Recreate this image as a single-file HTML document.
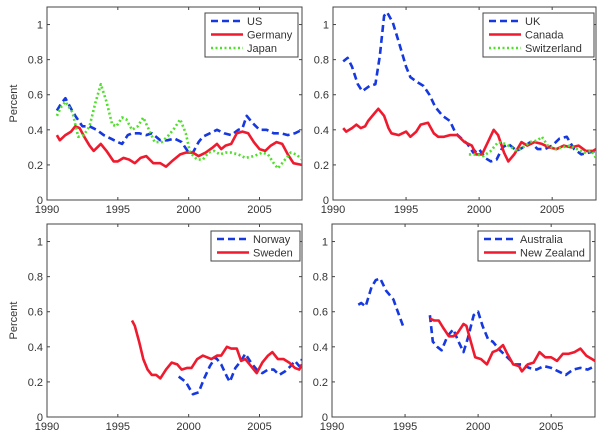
<!DOCTYPE html>
<html><head><meta charset="utf-8"><style>
html,body{margin:0;padding:0;background:#fff;}
svg{display:block;font-family:"Liberation Sans",Arial,sans-serif;}
</style></head><body>
<svg id="chart" width="600" height="436" viewBox="0 0 600 436"></svg>
<script>
// ---- data ----
const usYears=[1990.7,1991,1991.3,1991.7,1992,1992.5,1993,1993.5,1994,1994.5,1995,1995.3,1995.7,1996,1996.5,1997,1997.4,1998,1998.5,1999,1999.5,2000,2000.3,2000.7,2001,2001.5,2002,2002.5,2003,2003.5,2003.8,2004.1,2004.5,2005,2005.5,2006,2006.5,2007,2007.5,2008];
const usValues=[.51,.55,.58,.52,.48,.42,.42,.40,.37,.35,.33,.32,.37,.38,.38,.37,.38,.34,.34,.35,.33,.27,.27,.33,.36,.38,.40,.38,.37,.40,.41,.48,.44,.40,.40,.38,.38,.37,.38,.40];
const deYears=[1990.7,1990.9,1991.3,1991.7,1992,1992.3,1992.7,1993,1993.3,1993.8,1994.2,1994.7,1995,1995.4,1995.8,1996.2,1996.6,1997,1997.5,1998,1998.4,1998.8,1999.4,1999.8,2000.3,2000.7,2001.2,2001.7,2002,2002.3,2002.6,2003,2003.4,2003.8,2004.2,2004.6,2005,2005.4,2005.8,2006.2,2006.6,2007,2007.4,2008];
const deValues=[.37,.34,.37,.39,.42,.41,.35,.31,.28,.32,.28,.22,.22,.24,.23,.21,.24,.25,.21,.21,.19,.22,.26,.27,.27,.25,.27,.30,.32,.29,.31,.32,.38,.39,.38,.33,.29,.28,.31,.33,.32,.26,.21,.20];
const jpYears=[1990.7,1991,1991.3,1991.8,1992.2,1992.6,1993,1993.4,1993.8,1994.2,1994.6,1994.9,1995.3,1995.6,1996,1996.4,1996.8,1997.2,1997.6,1998.1,1998.6,1999,1999.4,1999.8,2000.1,2000.6,2001,2001.4,2001.8,2002.2,2002.6,2003,2003.5,2004,2004.6,2005.2,2005.6,2006,2006.3,2006.7,2007.2,2007.6,2008];
const jpValues=[.48,.53,.56,.50,.36,.37,.42,.55,.66,.56,.43,.42,.47,.46,.40,.42,.47,.40,.33,.33,.37,.41,.46,.38,.27,.23,.23,.27,.28,.26,.27,.27,.26,.24,.25,.27,.26,.21,.18,.22,.27,.26,.23];
const ukYears=[1990.7,1991,1991.3,1991.7,1992,1992.5,1992.9,1993.2,1993.5,1993.7,1994.1,1994.5,1995,1995.3,1995.8,1996.2,1996.6,1997,1997.5,1998,1998.4,1998.8,1999.2,1999.6,2000,2000.4,2000.8,2001.2,2001.6,2002,2002.6,2003,2003.5,2004,2004.5,2005,2005.5,2006,2006.5,2007,2007.5,2008];
const ukValues=[.79,.81,.76,.66,.62,.65,.66,.82,1.05,1.07,1.01,.90,.76,.70,.67,.65,.60,.53,.48,.45,.38,.35,.32,.27,.29,.24,.22,.23,.30,.32,.28,.30,.33,.29,.29,.31,.35,.36,.29,.26,.27,.28];
const caYears=[1990.7,1990.9,1991.3,1991.6,1991.9,1992.2,1992.4,1992.8,1993.1,1993.5,1993.8,1994,1994.5,1995,1995.3,1995.7,1996,1996.5,1996.9,1997.2,1997.6,1998,1998.5,1999,1999.5,1999.8,2000.2,2000.6,2001,2001.3,2001.7,2002,2002.4,2002.9,2003.3,2003.8,2004.3,2004.8,2005.3,2005.8,2006.3,2006.8,2007.3,2007.8,2008];
const caValues=[.41,.39,.41,.43,.41,.42,.45,.49,.52,.48,.41,.38,.37,.39,.36,.39,.43,.44,.38,.36,.36,.37,.37,.33,.31,.26,.26,.33,.40,.37,.27,.22,.26,.33,.31,.33,.32,.30,.29,.31,.30,.31,.28,.28,.29];
const chYears=[1999.3,1999.8,2000.3,2000.8,2001.3,2001.8,2002.2,2002.6,2003,2003.5,2004,2004.3,2004.7,2005.2,2005.7,2006.2,2006.7,2007.2,2007.7,2008];
const chValues=[.26,.26,.25,.28,.33,.32,.30,.28,.30,.33,.34,.36,.31,.29,.30,.31,.29,.27,.28,.24];
const noYears=[1999.3,1999.8,2000.3,2000.7,2001.1,2001.5,2001.9,2002.3,2002.7,2002.9,2003.3,2003.7,2004,2004.4,2004.8,2005.2,2005.6,2006,2006.4,2006.8,2007.2,2007.5,2007.8,2008];
const noValues=[.23,.20,.13,.14,.22,.29,.34,.30,.23,.20,.28,.32,.36,.31,.27,.25,.27,.27,.24,.26,.29,.32,.29,.33];
const seYears=[1996,1996.2,1996.5,1996.8,1997.1,1997.4,1997.7,1998,1998.4,1998.8,1999.2,1999.5,1999.9,2000.2,2000.6,2001,2001.3,2001.6,2002,2002.3,2002.7,2003,2003.4,2003.7,2004,2004.4,2004.8,2005.2,2005.6,2005.9,2006.3,2006.7,2007.1,2007.5,2007.8,2008];
const seValues=[.55,.52,.43,.33,.27,.24,.24,.22,.27,.31,.30,.27,.28,.28,.33,.35,.34,.33,.35,.35,.40,.39,.39,.32,.33,.29,.25,.31,.35,.37,.33,.33,.31,.28,.27,.30];
const auYears=[1991.8,1992,1992.3,1992.7,1993,1993.3,1993.7,1994.2,1994.5,1994.9,1995.8,1996.7,1996.9,1997.2,1997.5,1997.9,1998.3,1998.6,1999,1999.3,1999.7,2000,2000.3,2000.7,2001,2001.5,2002,2002.5,2003,2003.5,2004,2004.5,2005,2005.5,2006,2006.5,2007,2007.5,2008];
const auValues=[.64,.65,.63,.74,.78,.79,.72,.67,.60,.51,null,.58,.43,.40,.38,.46,.50,.44,.37,.45,.58,.60,.52,.44,.43,.38,.34,.30,.30,.28,.27,.29,.28,.26,.24,.27,.28,.27,.29];
const nzYears=[1996.7,1997,1997.3,1997.6,1998,1998.3,1998.6,1999,1999.2,1999.5,1999.8,2000.2,2000.6,2001,2001.3,2001.7,2002,2002.4,2002.8,2003,2003.4,2003.8,2004.2,2004.6,2005,2005.4,2005.8,2006.2,2006.6,2007,2007.4,2007.8,2008];
const nzValues=[.56,.55,.55,.51,.46,.46,.48,.53,.52,.43,.34,.33,.30,.37,.38,.41,.36,.30,.29,.26,.30,.31,.37,.34,.34,.32,.36,.36,.37,.39,.35,.33,.32];
const xTicks=[1990,1995,2000,2005];
const yTicks=[0,0.2,0.4,0.6,0.8,1];
const yTickLabels=["0","0.2","0.4","0.6","0.8","1"];

// ---- layout ----
const BLUE="#1538e0",RED="#ef1a2d",GREEN="#4fe02a";
const styles={dash:{c:BLUE,d:"7,4"},solid:{c:RED,d:""},dot:{c:GREEN,d:"2,2.5"}};
const panels=[
 {name:"top-left",x0:47,x1:302,y0:200,yTop:7,ylab:true,legend:[205,13,93,44],
  series:[["US","dash",usYears,usValues],["Germany","solid",deYears,deValues],["Japan","dot",jpYears,jpValues]]},
 {name:"top-right",x0:333,x1:596,y0:200,yTop:7,ylab:false,legend:[483,13,111,44],
  series:[["UK","dash",ukYears,ukValues],["Canada","solid",caYears,caValues],["Switzerland","dot",chYears,chValues]]},
 {name:"bottom-left",x0:47,x1:302,y0:417,yTop:224,ylab:true,legend:[211,231,89,30],
  series:[["Norway","dash",noYears,noValues],["Sweden","solid",seYears,seValues]]},
 {name:"bottom-right",x0:332,x1:595,y0:417,yTop:224,ylab:false,legend:[478,231,112,30],
  series:[["Australia","dash",auYears,auValues],["New Zealand","solid",nzYears,nzValues]]}
];
const NS="http://www.w3.org/2000/svg";
const svg=document.getElementById("chart");
function mk(tag,attrs,parent){const e=document.createElementNS(NS,tag);for(const k in attrs)e.setAttribute(k,attrs[k]);(parent||svg).appendChild(e);return e;}

panels.forEach(p=>{
  const g=mk("g",{});
  
  
  const X=v=>p.x0+(v-1990)/18*(p.x1-p.x0);
  const Y=v=>p.y0-(v/1.1)*(p.y0-p.yTop);
  const box=mk("rect",{x:p.x0,y:p.yTop,width:p.x1-p.x0,height:p.y0-p.yTop,fill:"#fff",stroke:"#444","stroke-width":1},g);
  
  
  xTicks.forEach(t=>{
    const x=X(t);
    mk("line",{x1:x,x2:x,y1:p.y0,y2:p.y0-3,stroke:"#444"},g);
    mk("line",{x1:x,x2:x,y1:p.yTop,y2:p.yTop+3,stroke:"#444"},g);
    const tx=mk("text",{x:x,y:p.y0+13,"font-size":11,"text-anchor":"middle",fill:"#333"},g);
    tx.textContent=t;
    
    
  });
  yTicks.forEach((t,i)=>{
    const y=Y(t);
    mk("line",{x1:p.x0,x2:p.x0+3,y1:y,y2:y,stroke:"#444"},g);
    mk("line",{x1:p.x1,x2:p.x1-3,y1:y,y2:y,stroke:"#444"},g);
    const ty=mk("text",{x:p.x0-4,y:y+4,"font-size":11,"text-anchor":"end",fill:"#333"},g);
    ty.textContent=yTickLabels[i];
    
    
  });
  if(p.ylab){
    const yc=(p.y0+p.yTop)/2;
    const yl=mk("text",{x:17,y:yc,"font-size":11,"text-anchor":"middle",fill:"#333",transform:"rotate(-90 17 "+yc+")"},g);
    yl.textContent="Percent";
    
    
  }
  const clipId="clip-"+p.name;
  const cp=mk("clipPath",{id:clipId},g);
  mk("rect",{x:p.x0,y:p.yTop,width:p.x1-p.x0,height:p.y0-p.yTop},cp);
  p.series.forEach(s=>{
    const st=styles[s[1]];
    let d="",pen=false;
    s[2].forEach((yr,i)=>{
      const v=s[3][i];
      if(v===null){pen=false;return;}
      d+=(pen?"L":"M")+X(yr).toFixed(1)+","+Y(v).toFixed(1);
      pen=true;
    });
    const path=mk("path",{d:d,fill:"none",stroke:st.c,"stroke-width":2.6,"stroke-dasharray":st.d,"stroke-linejoin":"round","clip-path":"url(#"+clipId+")"},g);
    
    
  });
  const L=p.legend;
  const lg=mk("g",{},g);
  
  
  mk("rect",{x:L[0],y:L[1],width:L[2],height:L[3],fill:"#fff",stroke:"#444","stroke-width":1},lg);
  p.series.forEach((s,i)=>{
    const st=styles[s[1]];
    const yy=L[1]+8+i*13.5;
    mk("line",{x1:L[0]+6,x2:L[0]+38,y1:yy,y2:yy,stroke:st.c,"stroke-width":2.6,"stroke-dasharray":st.d},lg);
    const lt=mk("text",{x:L[0]+42,y:yy+4,"font-size":11,fill:"#333"},lg);
    lt.textContent=s[0];
    
    
  });
});
</script>
</body></html>
